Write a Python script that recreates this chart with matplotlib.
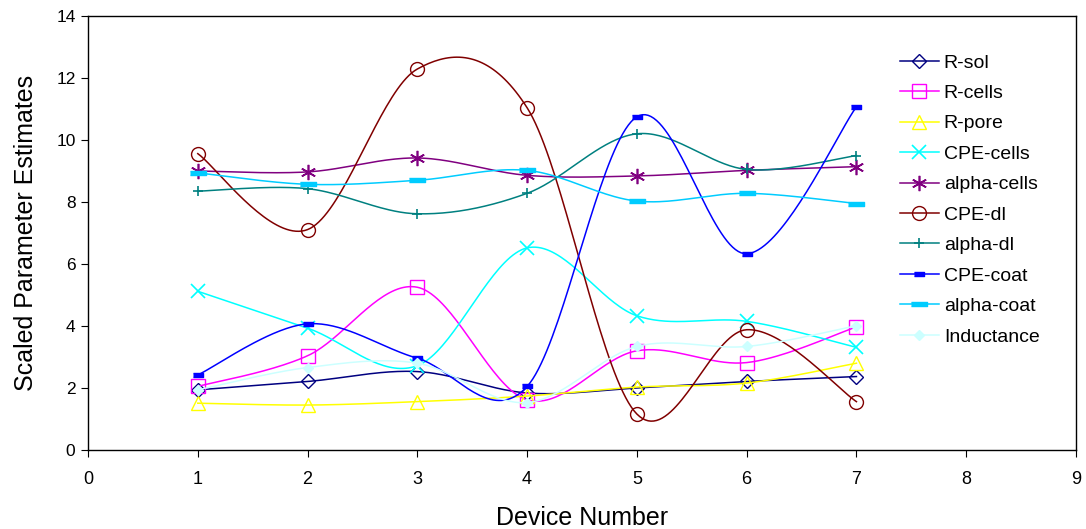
import numpy as np
import matplotlib
matplotlib.use("Agg")
import matplotlib.pyplot as plt

plt.rcParams['font.family'] = ['Liberation Sans', 'DejaVu Sans']

devices = [1, 2, 3, 4, 5, 6, 7]

r_sol = [1.94, 2.21, 2.53, 1.84, 2.00, 2.21, 2.37]
r_cells = [2.05, 3.04, 5.25, 1.62, 3.20, 2.82, 3.97]
r_pore = [1.51, 1.45, 1.56, 1.74, 2.03, 2.16, 2.80]
cpe_cells = [5.12, 3.93, 2.72, 6.52, 4.33, 4.15, 3.31]
alpha_cells = [9.00, 8.97, 9.42, 8.86, 8.84, 9.02, 9.14]
cpe_dl = [9.56, 7.11, 12.29, 11.04, 1.16, 3.88, 1.56]
alpha_dl = [8.35, 8.43, 7.62, 8.28, 10.20, 9.05, 9.50]
cpe_coat = [2.42, 4.07, 2.96, 2.05, 10.75, 6.33, 11.07]
alpha_coat = [8.94, 8.57, 8.70, 9.02, 8.03, 8.28, 7.95]
inductance = [1.94, 2.66, 2.80, 1.53, 3.34, 3.34, 4.01]

SEG_POINTS = 40
SMALL_DASH = [(-1, -0.45), (1, -0.45), (1, 0.45), (-1, 0.45)]
WIDE_DASH = [(-1, -0.28), (1, -0.28), (1, 0.28), (-1, 0.28)]


def excel_smooth(xs, ys, n=SEG_POINTS):
    """Bezier smoothing through the points, like Excel's smoothed line."""
    pts = np.column_stack([xs, ys]).astype(float)
    pieces = []
    for i in range(len(pts) - 1):
        p0 = pts[i - 1] if i > 0 else pts[i]
        p1 = pts[i]
        p2 = pts[i + 1]
        p3 = pts[i + 2] if i + 2 < len(pts) else pts[i + 1]
        c1 = p1 + (p2 - p0) / 6
        c2 = p2 - (p3 - p1) / 6
        t = np.linspace(0, 1, n)[:, None]
        seg = ((1 - t) ** 3 * p1 + 3 * (1 - t) ** 2 * t * c1
               + 3 * (1 - t) * t ** 2 * c2 + t ** 3 * p2)
        pieces.append(seg if i == 0 else seg[1:])
    return np.vstack(pieces)


series = [
    ("R-sol", r_sol, "#000080", dict(marker="D", ms=7, mfc="none")),
    ("R-cells", r_cells, "#FF00FF", dict(marker="s", ms=10, mfc="none")),
    ("R-pore", r_pore, "#FFFF00", dict(marker="^", ms=10, mfc="none")),
    ("CPE-cells", cpe_cells, "#00FFFF", dict(marker="x", ms=10, mew=1.2)),
    ("alpha-cells", alpha_cells, "#800080",
     dict(marker=(6, 2, 0), ms=11, mew=1.2)),
    ("CPE-dl", cpe_dl, "#800000", dict(marker="o", ms=10, mfc="none")),
    ("alpha-dl", alpha_dl, "#008080", dict(marker="+", ms=7, mew=1.2)),
    ("CPE-coat", cpe_coat, "#0000FF", dict(marker=SMALL_DASH, ms=7)),
    ("alpha-coat", alpha_coat, "#00CCFF", dict(marker=WIDE_DASH, ms=11)),
    ("Inductance", inductance, "#CCFFFF", dict(marker="D", ms=5.5)),
]

fig = plt.figure(figsize=(10.86, 5.29), dpi=100)
ax = fig.add_axes([88 / 1086, 1 - 450 / 529, 988 / 1086, 434 / 529])

for name, values, colour, style in series:
    curve = excel_smooth(devices, values)
    ax.plot(curve[:, 0], curve[:, 1], color=colour, lw=1.1, label=name,
            markevery=[k * (SEG_POINTS - 1) for k in range(len(devices))],
            mec=colour, **style)

ax.set_xlim(0, 9)
ax.set_ylim(0, 14)
ax.set_xticks(range(0, 10))
ax.set_yticks(range(0, 15, 2))
ax.tick_params(axis='x', direction='out', length=5, labelsize=13, pad=10)
ax.tick_params(axis='y', direction='out', length=5, labelsize=12.5, pad=4)
for spine in ax.spines.values():
    spine.set_linewidth(1.0)

ax.set_xlabel("Device Number", fontsize=18, labelpad=13)
ax.set_ylabel("Scaled Parameter Estimates", fontsize=18, labelpad=13)

ax.legend(loc='upper left', bbox_to_anchor=(900 / 1086, 1 - 54 / 529),
          bbox_transform=fig.transFigure, frameon=False, fontsize=14,
          handlelength=2.0, handletextpad=0.25, labelspacing=0.66,
          borderaxespad=0, borderpad=0)

fig.savefig("out.png", dpi=100)
